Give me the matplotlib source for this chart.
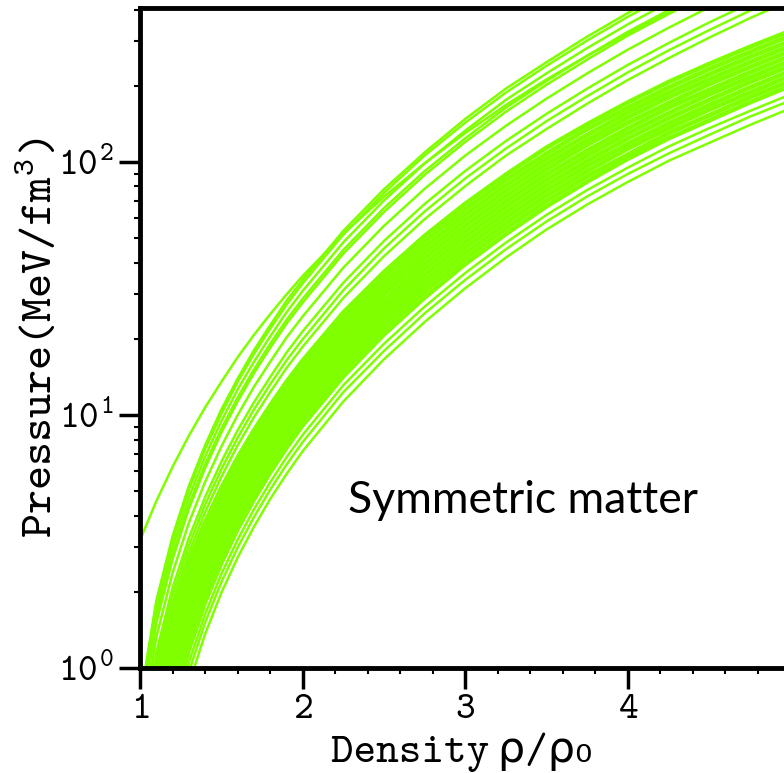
import numpy as np
import matplotlib
matplotlib.use('Agg')
import matplotlib.pyplot as plt
from matplotlib.ticker import MultipleLocator

plt.rcParams['font.family'] = ['cmtt10', 'DejaVu Sans']
plt.rcParams['mathtext.fontset'] = 'custom'
plt.rcParams['mathtext.rm'] = 'cmtt10'
plt.rcParams['mathtext.it'] = 'cmtt10'
plt.rcParams['axes.formatter.use_mathtext'] = True

nan = np.nan
green = '#7fff00'

# density rho/rho0 where the curves were read
density = [1.0, 1.1, 1.2, 1.3, 1.4, 1.5, 1.6, 1.7, 1.8, 1.9, 2.0, 2.25, 2.5,
           2.75, 3.0, 3.25, 3.5, 3.75, 4.0, 4.25, 4.5, 4.75, 5.0]

# pressure (MeV/fm^3), stiff family of curves
stiff_p = [
    [0.74, 1.84, 3.31, 5.23, 7.58, 10.5, 13.9, 18.0, 22.6, 28.2, 34.2, 53.4, 78.0, 109, 148, 195, 248, 313, 388, 473, 570, 681, 802],
    [0.71, 1.78, 3.20, 5.05, 7.33, 10.1, 13.5, 17.4, 21.9, 27.2, 33.1, 51.6, 75.4, 106, 143, 188, 240, 302, 375, 457, 551, 658, 775],
    [0.66, 1.66, 2.99, 4.71, 6.84, 9.45, 12.6, 16.2, 20.4, 25.4, 30.9, 48.1, 70.4, 98.6, 133, 176, 224, 282, 350, 427, 515, 614, 724],
    [0.62, 1.55, 2.79, 4.40, 6.38, 8.81, 11.7, 15.1, 19.1, 23.7, 28.8, 44.9, 65.7, 92.0, 124, 164, 209, 263, 327, 398, 480, 573, 675],
    [0.60, 1.50, 2.69, 4.25, 6.16, 8.51, 11.3, 14.6, 18.4, 22.9, 27.8, 43.4, 63.4, 88.9, 120, 158, 202, 254, 316, 384, 464, 553, 652],
    [0.53, 1.32, 2.37, 3.74, 5.43, 7.50, 9.98, 12.9, 16.2, 20.2, 24.5, 38.2, 55.9, 78.3, 106, 139, 178, 224, 278, 339, 409, 487, 575],
    [0.46, 1.15, 2.07, 3.26, 4.73, 6.53, 8.69, 11.2, 14.1, 17.6, 21.4, 33.3, 48.7, 68.2, 92.2, 121, 155, 195, 242, 295, 356, 424, 501],
    [0.43, 1.07, 1.93, 3.04, 4.42, 6.10, 8.12, 10.5, 13.2, 16.4, 19.9, 31.1, 45.5, 63.7, 86.1, 113, 145, 182, 226, 276, 332, 396, 467],
    [0.40, 1.00, 1.80, 2.84, 4.12, 5.69, 7.57, 9.78, 12.3, 15.3, 18.6, 29.0, 42.4, 59.4, 80.3, 106, 135, 170, 211, 257, 310, 370, 436],
]

# the one curve with finite pressure at saturation
outlier_p = [3.20, 4.56, 6.23, 8.27, 10.7, 13.5, 16.9, 20.7, 25.0, 29.9, 35.4, 51.9, 72.9,
             98.8, 130, 168, 212, 263, 322, 389, 465, 549, 644]

# dense band of curves
band_p = [
    [0.46, 1.00, 1.71, 2.63, 3.76, 5.14, 6.78, 8.69, 10.9, 13.5, 16.4, 25.4, 36.7, 51.0, 68.4, 89.1, 114, 141, 172, 207, 244, 285, 330],
    [nan, 0.89, 1.57, 2.45, 3.52, 4.83, 6.38, 8.20, 10.3, 12.8, 15.6, 24.1, 34.9, 48.5, 65.1, 84.9, 108, 135, 164, 197, 233, 272, 316],
    [nan, 0.79, 1.44, 2.28, 3.29, 4.54, 6.02, 7.75, 9.75, 12.1, 14.7, 22.9, 33.1, 46.1, 61.9, 80.8, 103, 128, 157, 188, 222, 260, 301],
    [nan, 0.71, 1.33, 2.12, 3.08, 4.27, 5.68, 7.32, 9.22, 11.5, 14.0, 21.7, 31.4, 43.8, 58.9, 76.9, 98.2, 122, 150, 180, 212, 248, 288],
    [nan, 0.63, 1.22, 1.97, 2.89, 4.01, 5.35, 6.92, 8.73, 10.9, 13.2, 20.6, 29.9, 41.6, 56.0, 73.2, 93.6, 117, 143, 171, 203, 237, 275],
    [nan, 0.56, 1.12, 1.83, 2.70, 3.77, 5.04, 6.53, 8.25, 10.3, 12.6, 19.5, 28.3, 39.5, 53.3, 69.7, 89.2, 111, 136, 164, 193, 226, 263],
    [nan, 0.50, 1.03, 1.70, 2.53, 3.54, 4.75, 6.17, 7.81, 9.73, 11.9, 18.5, 26.9, 37.6, 50.7, 66.4, 85.0, 106, 130, 156, 185, 216, 251],
    [nan, 0.44, 0.95, 1.58, 2.37, 3.33, 4.48, 5.82, 7.39, 9.21, 11.3, 17.6, 25.6, 35.7, 48.2, 63.2, 81.0, 101, 124, 149, 176, 207, 240],
    [nan, 0.40, 0.87, 1.47, 2.22, 3.13, 4.22, 5.50, 6.99, 8.72, 10.7, 16.7, 24.3, 33.9, 45.9, 60.2, 77.2, 96.5, 118, 142, 168, 197, 229],
    [nan, 0.35, 0.80, 1.37, 2.08, 2.94, 3.98, 5.19, 6.61, 8.26, 10.1, 15.8, 23.1, 32.3, 43.6, 57.3, 73.6, 92.0, 113, 136, 161, 188, 219],
    [nan, 0.31, 0.74, 1.27, 1.94, 2.77, 3.75, 4.91, 6.26, 7.82, 9.60, 15.0, 21.9, 30.7, 41.5, 54.6, 70.1, 87.8, 107, 130, 153, 180, 209],
    [nan, 0.28, 0.68, 1.18, 1.82, 2.60, 3.54, 4.63, 5.92, 7.41, 9.10, 14.2, 20.8, 29.1, 39.5, 51.9, 66.8, 83.7, 103, 124, 146, 172, 200],
]

# softest few curves below the band
soft_p = [
    [nan, 0.231, 0.590, 1.05, 1.63, 2.35, 3.21, 4.23, 5.41, 6.79, 8.34, 13.1, 19.1, 26.8, 36.4, 48.0, 61.8, 77.5, 95.0, 115, 136, 159, 185],
    [nan, 0.201, 0.531, 0.963, 1.51, 2.18, 2.99, 3.94, 5.06, 6.35, 7.81, 12.3, 17.9, 25.2, 34.2, 45.2, 58.2, 73.1, 89.7, 108, 128, 151, 175],
    [nan, 0.168, 0.467, 0.861, 1.36, 1.98, 2.73, 3.61, 4.65, 5.83, 7.19, 11.3, 16.6, 23.3, 31.7, 41.9, 54.1, 67.9, 83.4, 101, 119, 140, 163],
]

fig = plt.figure(figsize=(7.84, 7.73), dpi=100)
ax = fig.add_axes([0.17857, 0.13583, 0.82143, 0.85382])

for p in band_p:
    ax.plot(density, p, color=green, lw=3.3, solid_capstyle='butt')
for p in soft_p:
    ax.plot(density, p, color=green, lw=1.8)
for p in stiff_p:
    ax.plot(density, p, color=green, lw=1.8)
ax.plot(density, outlier_p, color=green, lw=1.8)

ax.set_yscale('log')
ax.set_xlim(1, 4.96)
ax.set_ylim(1, 406)

ax.xaxis.set_major_locator(MultipleLocator(1))
ax.xaxis.set_minor_locator(MultipleLocator(0.2))
ax.tick_params(which='major', direction='out', length=15, width=2.5, labelsize=27, pad=4)
ax.tick_params(which='minor', direction='out', length=4.5, width=1.5)
ax.tick_params(top=False, right=False, which='both')

for side in ['left', 'bottom', 'top']:
    ax.spines[side].set_linewidth(3.5)
ax.spines['right'].set_visible(False)

ax.set_xlabel('Density\u2009\u03c1/\u03c1\u2080', fontsize=31, labelpad=4)
ax.set_ylabel('Pressure(MeV/fm$^3$)', fontsize=33, labelpad=-3)

ax.text(2.28, 4.6, 'Symmetric matter', family='Lato', fontsize=32,
        ha='left', va='center')

fig.savefig('out.png', dpi=100)
